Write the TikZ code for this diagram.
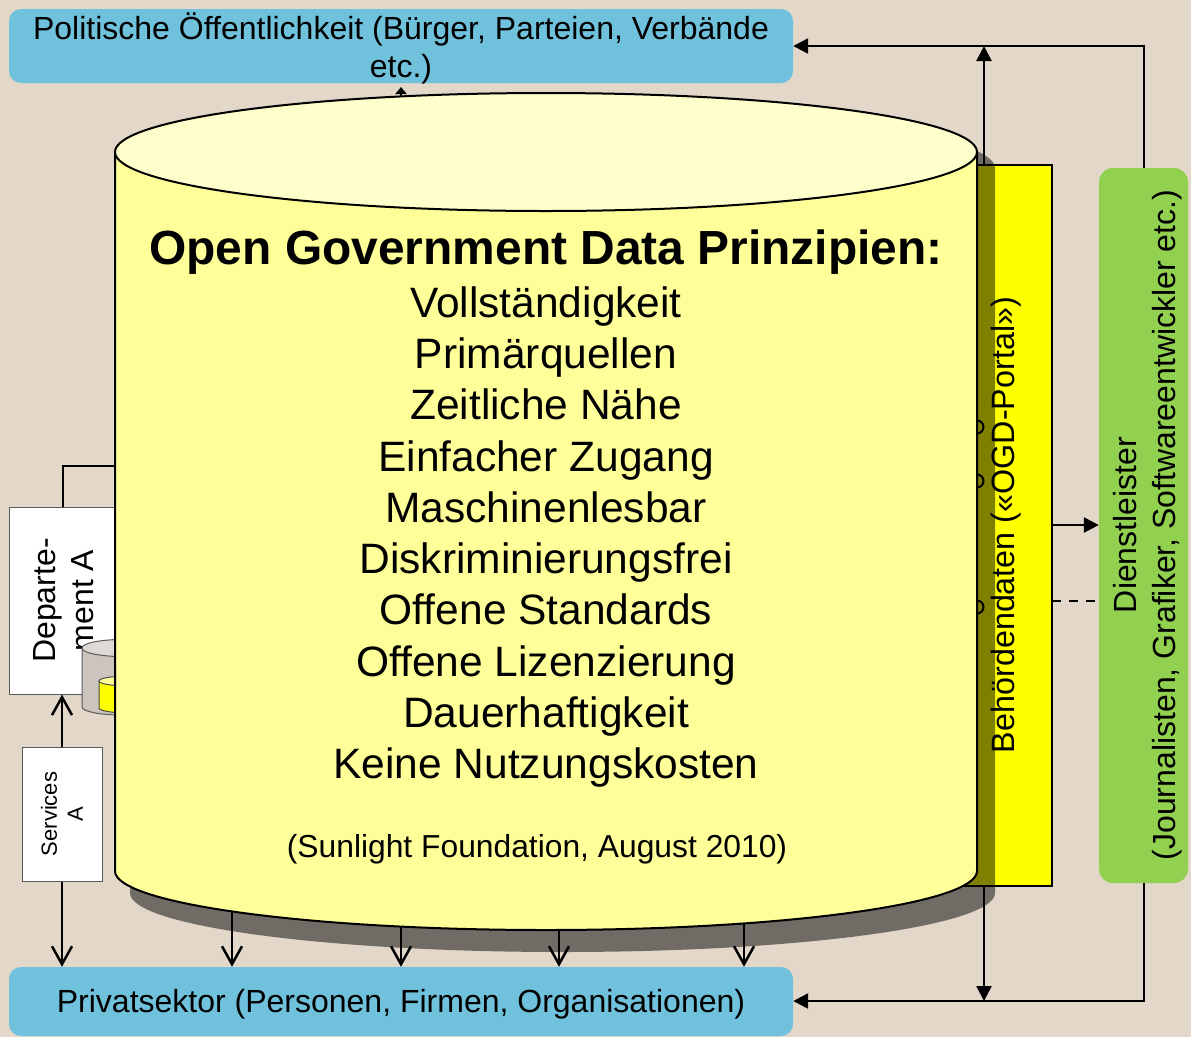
\documentclass[tikz,border=0pt]{standalone}
\usepackage{fontspec}
\setmainfont{Liberation Sans}
\usetikzlibrary{arrows.meta}
\definecolor{pagebg}{HTML}{E2D7C9}
\definecolor{sectorblue}{HTML}{70C1DC}
\definecolor{servicegreen}{HTML}{92D050}
\definecolor{canbody}{HTML}{FFFF99}
\definecolor{cantop}{HTML}{FFFFCC}
\definecolor{smallbody}{HTML}{CCC5BE}
\definecolor{smalltop}{HTML}{DEDAD5}
\definecolor{datayellow}{HTML}{FFFF00}
\definecolor{smalllid}{HTML}{FFFF99}
\tikzset{
  sectorbox/.style={fill=sectorblue, rounded corners=12pt, inner sep=0pt, align=center, font=\fontsize{32}{38}\selectfont},
  unitbox/.style={draw=black!65, fill=white, line width=1pt, inner sep=0pt},
  sidetext/.style={rotate=90, align=center, inner sep=0pt},
  openhead/.style={line width=2.5pt, -{Straight Barb[length=18pt,width=20pt,line width=2.5pt]}},
  fullhead/.style={line width=2.5pt, -{Triangle[length=15pt,width=15pt]}},
  cantext/.style={align=center, inner sep=0pt}
}

\begin{document}
\begin{tikzpicture}[x=1pt,y=-1pt]
  \useasboundingbox (0,0) rectangle (1191,1037);
  \fill[pagebg] (0,0) rectangle (1191,1037);
  % sectors
  \node[sectorbox, minimum width=784pt, minimum height=74pt] (polit) at (401,46) {};
  \node[sectorbox, minimum width=784pt, minimum height=69pt] (priv) at (401,1001.5) {};
  \node[inner sep=0pt, align=center, font=\fontsize{32}{38}\selectfont] (polittext) at (401,48) {Politische Öffentlichkeit (Bürger, Parteien, Verbände\\etc.)};
  \node[inner sep=0pt, font=\fontsize{32}{38}\selectfont] (privtext) at (401,1004) {Privatsektor (Personen, Firmen, Organisationen)};
  % right side
  \node[fill=servicegreen, rounded corners=14pt, minimum width=89pt, minimum height=715pt] (dienst) at (1143.5,525.5) {};
  \node[draw, fill=datayellow, line width=2.5pt, minimum width=94pt, minimum height=721pt] (portal) at (1005,525.5) {};
  \coordinate (portalout) at (984,46);
  \coordinate (portaldown) at (984,1001);
  \coordinate (dienstup) at (1144,46);
  \coordinate (dienstdown) at (1144,1001);
  \coordinate (solidout) at (1052,525);
  \coordinate (dashout) at (1052,601);
  \draw[fullhead] (dienst.north -| dienstup) -- (dienstup) -- (dienstup -| polit.east);
  \draw[fullhead] (dienst.south -| dienstdown) -- (dienstdown) -- (dienstdown -| priv.east);
  \draw[fullhead] (portal.north -| portalout) -- (portalout);
  \draw[fullhead] (portal.south -| portaldown) -- (portaldown);
  \draw[fullhead] (solidout) -- (solidout -| dienst.west);
  \draw[line width=2.5pt, dash pattern=on 9pt off 8pt] (dashout) -- (dashout -| dienst.west);
  % shadow
  \fill[black, opacity=0.5] (130,168) -- (130,893) arc[start angle=180, end angle=0, x radius=432.5, y radius=59] -- (995,168) arc[start angle=0, end angle=-180, x radius=432.5, y radius=59] -- cycle;
  \node[sidetext, font=\fontsize{32.3}{37}\selectfont] at (1006,525) {Behördendaten («OGD-Portal»)};
  \node[sidetext, font=\fontsize{32}{39.5}\selectfont] at (1147.5,525) {Dienstleister\\(Journalisten, Grafiker, Softwareentwickler etc.)};
  % left side
  \node[unitbox, minimum width=106pt, minimum height=187pt] (depta) at (62,600.5) {};
  \node[unitbox, minimum width=80pt, minimum height=134pt] (servicesa) at (62,814) {};
  \node[sidetext, font=\fontsize{32}{38}\selectfont] at (63.5,600.5) {Departe-\\ment A};
  \node[sidetext, font=\fontsize{22}{26}\selectfont] at (62,814) {Services\\A};
  \coordinate (deptlink) at (63,466);
  \coordinate (canedge) at (116,466);
  \draw[line width=1.5pt] (depta.north -| deptlink) -- (deptlink) -- (canedge);
  \draw[openhead] (servicesa.north) -- (depta.south);
  \draw[openhead] (servicesa.south) -- (servicesa.south |- priv.north);
  \draw[draw=black!65, fill=smallbody, line width=1pt] (82,648) -- (82,707) arc[start angle=180, end angle=0, x radius=40, y radius=8] -- (162,648) -- cycle;
  \draw[draw=black!65, fill=smalltop, line width=1pt] (122,648) ellipse[x radius=40, y radius=8.5];
  \draw[draw=black!70, fill=datayellow, line width=1pt] (99,681) -- (99,708) arc[start angle=180, end angle=0, x radius=30, y radius=5] -- (159,681) -- cycle;
  \draw[draw=black!70, fill=smalllid, line width=1pt] (129,681) ellipse[x radius=30, y radius=5];
  % hooks behind the can
  \foreach \hy in {427,481,607}
    \draw[line width=2pt] (977,\hy) circle[radius=6.5];
  % connectors behind the can
  \coordinate (upstart) at (401,200);
  \draw[line width=2pt, -{Triangle[length=7pt,width=11pt]}] (upstart) -- (401,87);
  \foreach \dropx in {232,401,559,744} {
    \coordinate (drop\dropx) at (\dropx,900);
    \draw[openhead] (drop\dropx) -- (drop\dropx |- priv.north);
  }
  % the can
  \draw[line width=2pt, fill=canbody] (115,152) -- (115,871) arc[start angle=180, end angle=0, x radius=431, y radius=59] -- (977,152) -- cycle;
  \draw[line width=2pt, fill=cantop] (546,152) ellipse[x radius=431, y radius=59];
  \node[cantext, font=\bfseries\fontsize{47.9}{54}\selectfont] (principles) at (546,252) {Open Government Data Prinzipien:};
  \node[cantext, font=\fontsize{42.5}{51.3}\selectfont] (principlelist) at (546,537) {Vollständigkeit\\Primärquellen\\Zeitliche Nähe\\Einfacher Zugang\\Maschinenlesbar\\Diskriminierungsfrei\\Offene Standards\\Offene Lizenzierung\\Dauerhaftigkeit\\Keine Nutzungskosten};
  \node[cantext, font=\fontsize{31.8}{38}\selectfont] (source) at (537,849) {(Sunlight Foundation, August 2010)};
\end{tikzpicture}
\end{document}
